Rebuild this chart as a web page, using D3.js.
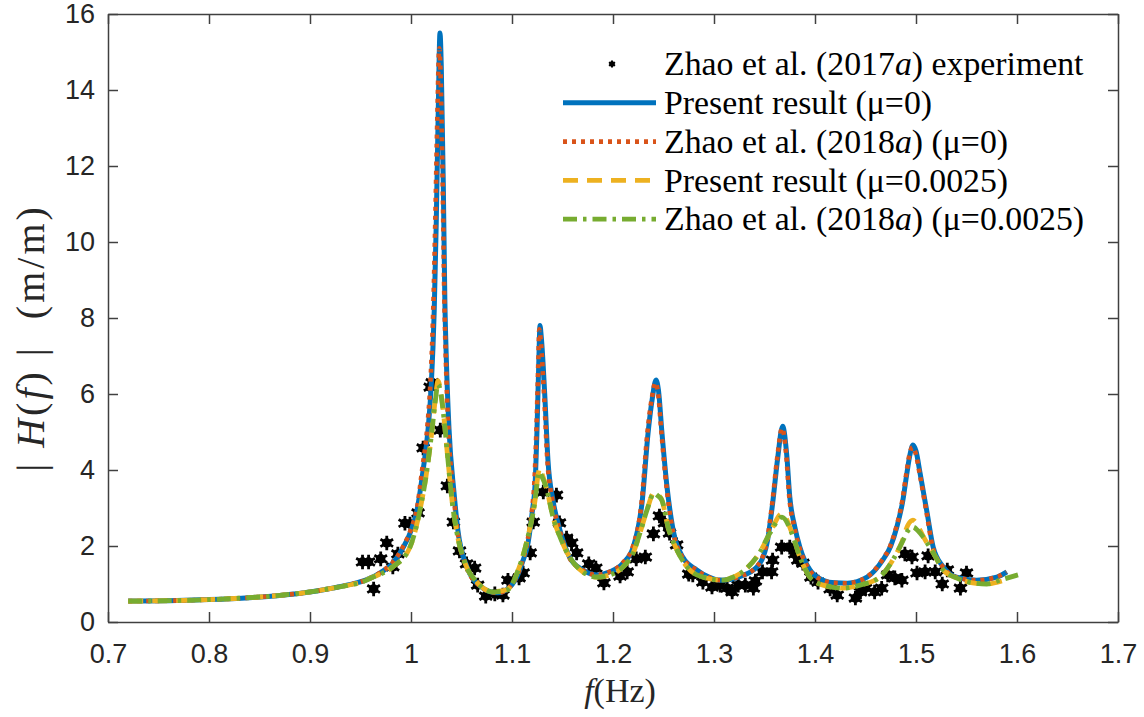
<!DOCTYPE html>
<html><head><meta charset="utf-8">
<script src="https://cdn.jsdelivr.net/npm/d3@7"></script>
<style>body{margin:0;background:#fff}svg{display:block}</style>
</head><body>
<svg id="chart" width="1144" height="717"></svg>
<script>
// ---- data (frequency f in Hz, |H(f)| in m/m) ----
const xTicks = [0.7,0.8,0.9,1.0,1.1,1.2,1.3,1.4,1.5,1.6,1.7];
const yTicks = [0,2,4,6,8,10,12,14,16];

const experiment = [
[0.952,1.58],[0.958,1.58],[0.963,0.87],[0.970,1.66],[0.976,2.08],[0.982,1.45],[0.987,1.79],
[0.994,2.60],[0.999,2.58],[1.007,2.87],[1.012,4.58],[1.019,6.18],[1.021,6.30],[1.029,5.05],
[1.036,3.58],[1.042,2.63],[1.048,1.87],[1.055,1.53],[1.063,1.42],[1.066,0.97],[1.074,0.68],
[1.083,0.74],[1.091,0.71],[1.096,1.10],[1.107,1.16],[1.111,1.29],[1.118,1.82],[1.121,2.63],
[1.131,3.42],[1.144,3.34],[1.147,2.61],[1.154,2.21],[1.159,2.08],[1.164,1.82],[1.176,1.53],
[1.183,1.42],[1.191,1.03],[1.207,1.21],[1.214,1.32],[1.223,1.66],[1.232,1.71],[1.240,2.32],
[1.246,2.79],[1.251,2.61],[1.256,2.34],[1.263,2.03],[1.275,1.26],[1.279,1.24],[1.289,1.05],
[1.298,0.92],[1.306,0.97],[1.313,0.89],[1.318,0.79],[1.324,0.97],[1.331,0.97],[1.339,0.89],
[1.341,1.08],[1.348,1.32],[1.357,1.32],[1.358,1.63],[1.367,1.97],[1.375,1.97],[1.380,1.79],
[1.383,1.63],[1.388,1.55],[1.396,1.18],[1.403,1.05],[1.415,0.87],[1.422,0.71],[1.440,0.63],
[1.445,0.79],[1.450,0.89],[1.459,0.79],[1.466,0.89],[1.472,1.24],[1.479,1.16],[1.486,1.10],
[1.489,1.79],[1.496,1.71],[1.501,1.29],[1.509,1.32],[1.512,1.74],[1.519,1.32],[1.526,1.00],
[1.531,1.37],[1.544,0.89],[1.550,1.29]
];

const presentMu0 = [
[0.72,0.55],[0.76,0.56],[0.80,0.59],[0.84,0.64],[0.87,0.70],[0.90,0.79],[0.92,0.88],[0.94,0.99],
[0.955,1.10],[0.97,1.30],[0.982,1.55],[0.992,1.95],[1.000,2.40],[1.006,2.95],[1.012,4.0],
[1.017,5.1],[1.020,6.2],[1.023,8.2],[1.025,10.5],[1.027,13.5],[1.0287,15.5],[1.030,14.6],
[1.032,11.5],[1.0335,8.5],[1.035,6.9],[1.0376,5.1],[1.0426,3.4],[1.0465,2.4],[1.0554,1.45],
[1.0683,0.95],[1.078,0.80],[1.086,0.77],[1.094,0.84],[1.100,0.98],[1.105,1.2],[1.110,1.55],
[1.116,2.1],[1.1205,3.0],[1.1228,3.6],[1.1248,5.1],[1.1265,6.8],[1.1277,7.8],[1.129,7.5],
[1.1327,5.84],[1.1356,4.26],[1.1406,3.2],[1.1475,2.42],[1.157,1.71],[1.170,1.37],[1.184,1.24],
[1.197,1.32],[1.210,1.55],[1.220,1.97],[1.229,3.2],[1.2347,4.97],[1.239,5.9],[1.2426,6.37],
[1.245,6.1],[1.2485,4.97],[1.2535,3.55],[1.259,2.5],[1.269,1.71],[1.283,1.37],[1.295,1.18],
[1.306,1.10],[1.316,1.12],[1.326,1.2],[1.3426,1.45],[1.3525,2.08],[1.3584,3.2],[1.363,4.3],
[1.368,5.15],[1.372,4.4],[1.375,3.3],[1.380,2.5],[1.385,1.97],[1.395,1.37],[1.408,1.1],
[1.420,1.03],[1.432,1.02],[1.4515,1.18],[1.467,1.63],[1.475,2.0],[1.481,2.5],[1.487,3.2],
[1.491,3.92],[1.494,4.4],[1.497,4.66],[1.500,4.5],[1.504,3.92],[1.511,2.87],[1.517,1.97],
[1.527,1.45],[1.540,1.18],[1.560,1.1],[1.580,1.18],[1.590,1.32]
];

const zhao2018Mu0 = [
[0.72,0.55],[0.76,0.56],[0.80,0.59],[0.84,0.64],[0.87,0.70],[0.90,0.79],[0.92,0.88],[0.94,0.99],
[0.955,1.10],[0.97,1.31],[0.982,1.57],[0.992,1.98],[1.000,2.45],[1.006,3.0],[1.011,4.0],
[1.016,5.1],[1.019,6.2],[1.022,8.2],[1.024,10.5],[1.026,13.2],[1.028,15.1],[1.0295,14.2],
[1.0315,11.3],[1.033,8.5],[1.0345,6.9],[1.037,5.1],[1.042,3.4],[1.046,2.4],[1.055,1.45],
[1.068,0.95],[1.078,0.80],[1.086,0.77],[1.094,0.84],[1.100,0.99],[1.105,1.22],[1.110,1.58],
[1.1155,2.15],[1.120,3.0],[1.1222,3.7],[1.1242,5.1],[1.126,6.8],[1.127,7.7],[1.1285,7.4],
[1.132,5.84],[1.135,4.26],[1.140,3.2],[1.147,2.42],[1.1565,1.71],[1.1695,1.37],[1.1835,1.24],
[1.1965,1.32],[1.2095,1.55],[1.2195,1.97],[1.2285,3.2],[1.234,4.97],[1.2385,5.9],[1.242,6.3],
[1.2445,6.05],[1.248,4.97],[1.253,3.55],[1.2585,2.5],[1.2685,1.71],[1.2825,1.37],[1.2945,1.18],
[1.3055,1.10],[1.3155,1.12],[1.3255,1.2],[1.342,1.45],[1.352,2.08],[1.358,3.2],[1.3625,4.3],
[1.3675,5.1],[1.3715,4.4],[1.3745,3.3],[1.3795,2.5],[1.3845,1.97],[1.3945,1.37],[1.4075,1.1],
[1.4195,1.03],[1.4315,1.02],[1.451,1.18],[1.4665,1.63],[1.4745,2.0],[1.4805,2.5],[1.4865,3.2],
[1.4905,3.92],[1.4935,4.4],[1.4965,4.6],[1.4995,4.45],[1.5035,3.92],[1.5105,2.87],[1.5165,1.97],
[1.5265,1.45],[1.5395,1.18],[1.5595,1.1],[1.5795,1.18],[1.5895,1.32]
];

const presentMu0025 = [
[0.72,0.55],[0.76,0.56],[0.80,0.59],[0.84,0.64],[0.87,0.70],[0.90,0.79],[0.92,0.88],[0.94,0.98],
[0.9495,1.04],[0.962,1.18],[0.982,1.45],[0.999,1.97],[1.0089,2.95],[1.0158,4.0],[1.0208,5.05],
[1.024,5.85],[1.0267,6.35],[1.029,6.15],[1.0317,5.6],[1.0366,4.26],[1.0406,3.2],[1.0455,2.34],
[1.0535,1.55],[1.0653,1.05],[1.081,0.80],[1.095,0.85],[1.105,1.29],[1.115,2.16],[1.1228,3.2],
[1.126,3.9],[1.1275,4.05],[1.130,3.88],[1.1346,3.47],[1.1406,2.76],[1.1475,2.24],[1.157,1.71],
[1.170,1.32],[1.184,1.18],[1.197,1.24],[1.210,1.45],[1.220,1.82],[1.2267,2.34],[1.2337,2.95],
[1.2406,3.4],[1.244,3.36],[1.2485,3.2],[1.2545,2.5],[1.2634,1.89],[1.2733,1.45],[1.289,1.18],
[1.309,1.1],[1.316,1.15],[1.3327,1.42],[1.3455,1.84],[1.3554,2.34],[1.3673,2.85],[1.377,2.36],
[1.385,1.71],[1.395,1.18],[1.408,0.97],[1.428,0.89],[1.4446,0.97],[1.464,1.18],[1.477,1.63],
[1.486,2.1],[1.492,2.55],[1.497,2.68],[1.502,2.52],[1.507,2.26],[1.517,1.82],[1.527,1.37],
[1.540,1.16],[1.556,1.03],[1.570,1.0],[1.585,1.08]
];

const zhao2018Mu0025 = [
[0.72,0.55],[0.76,0.56],[0.80,0.59],[0.84,0.64],[0.87,0.70],[0.90,0.79],[0.92,0.88],[0.94,0.98],
[0.9495,1.03],[0.962,1.18],[0.982,1.45],[0.999,1.97],[1.0089,2.95],[1.0158,4.0],[1.0208,5.05],
[1.024,5.8],[1.0267,6.25],[1.029,6.1],[1.0317,5.58],[1.0366,4.26],[1.0406,3.2],[1.0455,2.34],
[1.0535,1.55],[1.0653,1.05],[1.081,0.79],[1.095,0.84],[1.105,1.29],[1.115,2.16],[1.1228,3.2],
[1.126,3.87],[1.1267,3.95],[1.130,3.8],[1.1346,3.47],[1.1406,2.76],[1.1475,2.24],[1.157,1.71],
[1.170,1.32],[1.184,1.18],[1.197,1.24],[1.210,1.45],[1.220,1.82],[1.2267,2.34],[1.2337,2.95],
[1.2406,3.39],[1.244,3.33],[1.2485,3.2],[1.2545,2.5],[1.2634,1.89],[1.2733,1.45],[1.289,1.18],
[1.309,1.1],[1.316,1.15],[1.3327,1.42],[1.3455,1.84],[1.3554,2.34],[1.3673,2.76],[1.377,2.34],
[1.385,1.71],[1.395,1.18],[1.408,0.97],[1.428,0.89],[1.4446,0.97],[1.464,1.18],[1.477,1.63],
[1.486,2.08],[1.492,2.4],[1.497,2.5],[1.502,2.4],[1.507,2.24],[1.517,1.82],[1.527,1.37],
[1.540,1.16],[1.556,1.03],[1.570,1.0],[1.583,1.1],[1.601,1.24]
];

const legendLabels = [
  ["Zhao et al. (2017", "a", ") experiment"],
  ["Present result (μ=0)", "", ""],
  ["Zhao et al. (2018", "a", ") (μ=0)"],
  ["Present result (μ=0.0025)", "", ""],
  ["Zhao et al. (2018", "a", ") (μ=0.0025)"]
];

// ---- drawing ----
const svg = d3.select("#chart");
const x = d3.scaleLinear().domain([0.7,1.7]).range([108,1118]);
const y = d3.scaleLinear().domain([0,16]).range([622,14]);
const axisColor = "#404040";
const tickFont = "'Liberation Sans', Arial, sans-serif";
const serif = "'Liberation Serif', 'Times New Roman', serif";

svg.append("clipPath").attr("id","clip").append("rect")
  .attr("x",108).attr("y",14).attr("width",1010).attr("height",608);

const series = [
  {data: presentMu0, color:"#0072BD", dash:null, w:5},
  {data: zhao2018Mu0, color:"#D95319", dash:"4,5", w:4.6},
  {data: presentMu0025, color:"#EDB120", dash:"15,9", w:4.8},
  {data: zhao2018Mu0025, color:"#77AC30", dash:"14,6,3.5,6", w:4.8}
];

// experimental markers
const star = d3.symbol().type(d3.symbolAsterisk).size(150);
const gPts = svg.append("g").attr("clip-path","url(#clip)");
gPts.selectAll("g.pt").data(experiment).join("g")
  .attr("transform", d => `translate(${x(d[0])},${y(d[1])})`)
  .each(function(){
    const g = d3.select(this);
    g.append("circle").attr("r",4.8).attr("fill","#000");
    g.append("path").attr("d",star()).attr("stroke","#000").attr("stroke-width",2.8).attr("fill","none");
  });

const line = d3.line().x(d=>x(d[0])).y(d=>y(d[1])).curve(d3.curveMonotoneX);
const gLines = svg.append("g").attr("clip-path","url(#clip)");
series.forEach(s=>{
  gLines.append("path").datum(s.data).attr("d",line)
    .attr("fill","none").attr("stroke",s.color).attr("stroke-width",s.w)
    .attr("stroke-dasharray",s.dash).attr("stroke-linejoin","round");
});

// axes (MATLAB box with inward ticks)
function styleAxis(g){
  g.select(".domain").attr("stroke",axisColor).attr("stroke-width",1.5);
  g.selectAll(".tick line").attr("stroke",axisColor).attr("stroke-width",1.5);
  g.selectAll(".tick text").attr("fill","#262626").style("font-family",tickFont).style("font-size","27px");
}
const fmt = d => d3.format("~g")(d);
svg.append("g").attr("transform","translate(0,622)")
  .call(d3.axisBottom(x).tickValues(xTicks).tickFormat(fmt).tickSizeInner(-10).tickSizeOuter(0).tickPadding(22))
  .call(styleAxis);
svg.append("g").attr("transform","translate(0,14)")
  .call(d3.axisTop(x).tickValues(xTicks).tickFormat("").tickSizeInner(-10).tickSizeOuter(0))
  .call(styleAxis);
svg.append("g").attr("transform","translate(108,0)")
  .call(d3.axisLeft(y).tickValues(yTicks).tickFormat(fmt).tickSizeInner(-10).tickSizeOuter(0).tickPadding(13))
  .call(styleAxis);
svg.append("g").attr("transform","translate(1118,0)")
  .call(d3.axisRight(y).tickValues(yTicks).tickFormat("").tickSizeInner(-10).tickSizeOuter(0))
  .call(styleAxis);

// axis titles
const xt = svg.append("text").attr("x",620).attr("y",702).attr("text-anchor","middle")
  .style("font-family",serif).style("font-size","34px").attr("fill","#262626");
xt.append("tspan").style("font-style","italic").text("f");
xt.append("tspan").text("(Hz)");

const yt = svg.append("text").attr("transform","translate(44,338) rotate(-90)").attr("text-anchor","middle")
  .style("font-family",serif).style("font-size","40px").attr("fill","#262626")
  .style("letter-spacing","3px").attr("xml:space","preserve");
yt.append("tspan").text("| ");
yt.append("tspan").style("font-style","italic").text("H");
yt.append("tspan").text("(");
yt.append("tspan").style("font-style","italic").text("f");
yt.append("tspan").text(") |  (m/m)");

// legend
const lg = svg.append("g");
const rowY = i => 64 + i*38.8;
legendLabels.forEach((lab,i)=>{
  const t = lg.append("text").attr("x",664).attr("y",rowY(i)).attr("dy","0.33em")
    .style("font-family",serif).style("font-size","33.8px").attr("fill","#000");
  t.append("tspan").text(lab[0]);
  if(lab[1]) t.append("tspan").style("font-style","italic").text(lab[1]);
  if(lab[2]) t.append("tspan").text(lab[2]);
});
const lgm = lg.append("g").attr("transform",`translate(612,${rowY(0)})`);
lgm.append("circle").attr("r",2.8).attr("fill","#000");
lgm.append("path").attr("d",d3.symbol().type(d3.symbolAsterisk).size(34)()).attr("stroke","#000").attr("stroke-width",2);
series.forEach((s,i)=>{
  lg.append("line").attr("x1",563).attr("x2",656).attr("y1",rowY(i+1)).attr("y2",rowY(i+1))
    .attr("stroke",s.color).attr("stroke-width",s.w).attr("stroke-dasharray",s.dash);
});
</script>
</body></html>
